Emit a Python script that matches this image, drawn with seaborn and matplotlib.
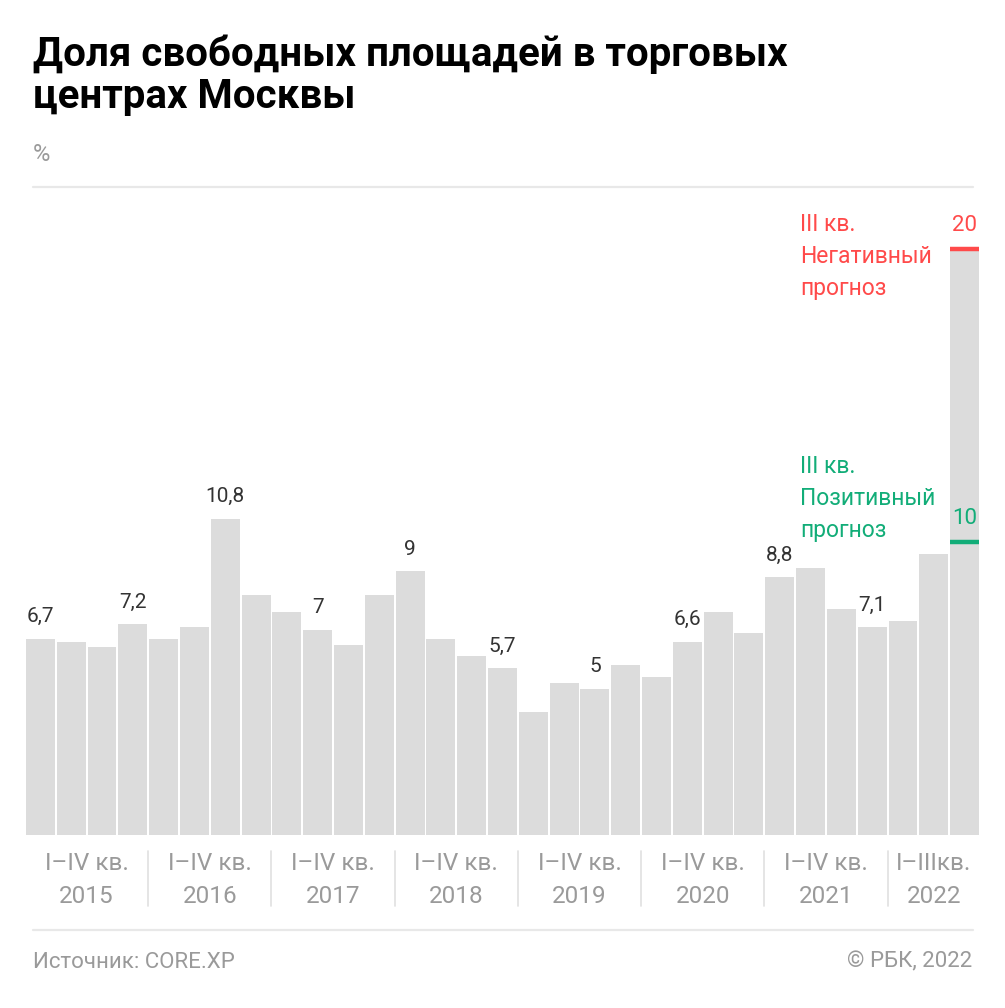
import matplotlib
matplotlib.use("Agg")
import matplotlib.pyplot as plt
import seaborn as sns
import pandas as pd
import numpy as np

# ---- data ----
quarters = [f"{y} Q{q}" for y in range(2015, 2022) for q in range(1, 5)] + ["2022 Q1", "2022 Q2", "2022 Q3"]
values = [6.7, 6.6, 6.4, 7.2,
          6.7, 7.1, 10.8, 8.2,
          7.6, 7.0, 6.5, 8.2,
          9.0, 6.7, 6.1, 5.7,
          4.2, 5.2, 5.0, 5.8,
          5.4, 6.6, 7.6, 6.9,
          8.8, 9.1, 7.7, 7.1,
          7.3, 9.6, 20.0]
labeled_idx = [0, 3, 6, 9, 12, 15, 18, 21, 24, 27]
label_texts = ["6,7", "7,2", "10,8", "7", "9", "5,7", "5", "6,6", "8,8", "7,1"]
negative_forecast = 20
positive_forecast = 10
group_labels = ["I–IV кв.\n2015", "I–IV кв.\n2016", "I–IV кв.\n2017", "I–IV кв.\n2018",
                "I–IV кв.\n2019", "I–IV кв.\n2020", "I–IV кв.\n2021", "I–IIIкв.\n2022"]
group_sizes = [4, 4, 4, 4, 4, 4, 4, 3]

title = "Доля свободных площадей в торговых\nцентрах Москвы"
unit = "%"
source = "Источник: CORE.XP"
copyright_txt = "© РБК, 2022"

RED = "#ff4a4a"
GREEN = "#12ad78"
BAR = "#dcdcdc"
GREY = "#9a9a9a"
LINE = "#e8e8e8"

sns.set_theme(style="white")
plt.rcParams['font.family'] = ['Roboto', 'DejaVu Sans']

W, H = 1005, 1008
fig = plt.figure(figsize=(W / 100, H / 100), dpi=100)
fig.patch.set_facecolor("white")

# axes: x from 25 to 980 px, baseline at y=835, 29.3 px per unit
left_px, right_px, base_px = 25, 980, 835
ppu = 29.3
top_px = 187
ymax = (base_px - top_px) / ppu
ax = fig.add_axes([left_px / W, (H - base_px) / H, (right_px - left_px) / W, (base_px - top_px) / H])

df = pd.DataFrame({"q": quarters, "v": values})
sns.barplot(data=df, x="q", y="v", color=BAR, width=0.94, ax=ax, saturation=1, edgecolor="none")
ax.set_xlim(-0.5, len(values) - 0.5)
ax.set_ylim(0, ymax)
ax.axis("off")

# value labels
for i, t in zip(labeled_idx, label_texts):
    ax.annotate(t, (i, values[i]), xytext=(0, 9), textcoords="offset points",
                ha="center", va="bottom", fontsize=15, color="#333333")

# forecast markers on last bar
n = len(values) - 1
ax.hlines(negative_forecast, n - 0.47, n + 0.47, color=RED, lw=3.2)
ax.hlines(positive_forecast, n - 0.47, n + 0.47, color=GREEN, lw=3.2)
ax.annotate("20", (n, negative_forecast), xytext=(0, 9), textcoords="offset points",
            ha="center", va="bottom", fontsize=16, color=RED)
ax.annotate("10", (n, positive_forecast), xytext=(0, 9), textcoords="offset points",
            ha="center", va="bottom", fontsize=16, color=GREEN)
fig.text(800 / W, 1 - 213 / H, "III кв.\nНегативный\nпрогноз", ha="left", va="top",
         fontsize=16.5, color=RED, linespacing=1.5)
fig.text(800 / W, 1 - 455 / H, "III кв.\nПозитивный\nпрогноз", ha="left", va="top",
         fontsize=16.5, color=GREEN, linespacing=1.5)

# group labels and separators
pos = 0
trans = ax.get_xaxis_transform()
for k, (lab, sz) in enumerate(zip(group_labels, group_sizes)):
    center = pos + (sz - 1) / 2
    ax.text(center, -0.027, lab, transform=trans, ha="center", va="top",
            fontsize=17.5, color=GREY, linespacing=1.55, clip_on=False)
    if k > 0:
        ax.plot([pos - 0.5, pos - 0.5], [-0.025, -0.11], transform=trans, color="#e0e0e0",
                lw=1.2, clip_on=False)
    pos += sz

# title etc.
fig.text(33 / W, 1 - 35 / H, title, ha="left", va="top", fontsize=29, fontweight="bold",
         color="black", linespacing=1.13)
fig.text(33 / W, 1 - 143 / H, unit, ha="left", va="top", fontsize=17, color=GREY)
fig.add_artist(plt.Line2D([33 / W, 973 / W], [1 - 187 / H, 1 - 187 / H], color=LINE, lw=1.6))
fig.add_artist(plt.Line2D([33 / W, 973 / W], [1 - 930 / H, 1 - 930 / H], color=LINE, lw=1.6))
fig.text(33 / W, 1 - 962 / H, source, ha="left", va="center", fontsize=16, color=GREY)
fig.text(972 / W, 1 - 962 / H, copyright_txt, ha="right", va="center", fontsize=16, color=GREY)

fig.savefig("out.png", dpi=100, facecolor="white")
